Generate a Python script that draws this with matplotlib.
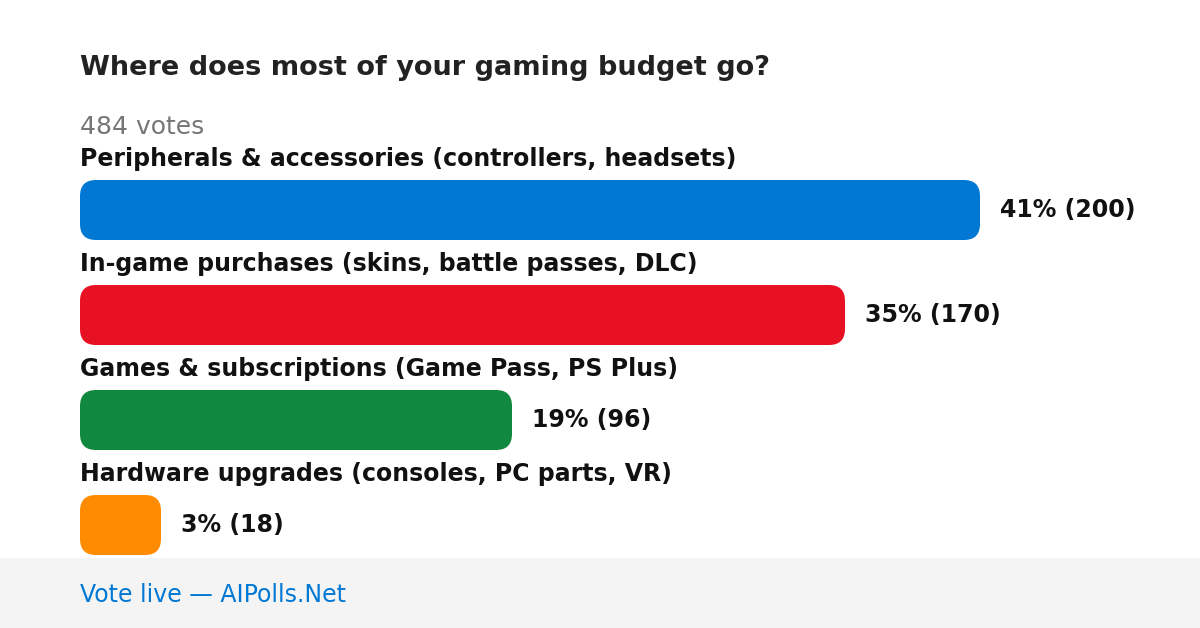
"""Poll result card: where does most of your gaming budget go."""
import matplotlib
matplotlib.use("Agg")
import matplotlib.pyplot as plt
from matplotlib.patches import FancyBboxPatch, Rectangle

TITLE = "Where does most of your gaming budget go?"
TOTAL_VOTES = 484
OPTIONS = [
    "Peripherals & accessories (controllers, headsets)",
    "In-game purchases (skins, battle passes, DLC)",
    "Games & subscriptions (Game Pass, PS Plus)",
    "Hardware upgrades (consoles, PC parts, VR)",
]
VOTES = [200, 170, 96, 18]
PERCENTS = [41, 35, 19, 3]
COLORS = ["#0078d4", "#e81123", "#10893e", "#ff8c00"]
FOOTER = "Vote live \u2014 AIPolls.Net"

W, H = 1200, 628
LEFT = 80
MAX_W = 900      # px for the largest option
BAR_H = 60
ROW0 = 180       # top of first bar
STEP = 105


def main():
    plt.rcParams["font.family"] = ["DejaVu Sans"]
    fig = plt.figure(figsize=(W / 100, H / 100), dpi=100)
    ax = fig.add_axes([0, 0, 1, 1])
    ax.set_xlim(0, W)
    ax.set_ylim(H, 0)   # pixel-like coords, y down
    ax.axis("off")

    ax.text(LEFT, 68, TITLE, fontsize=19.5, fontweight="bold",
            color="#222222", va="center", ha="left")
    ax.text(LEFT, 127, f"{TOTAL_VOTES} votes", fontsize=18,
            color="#767676", va="center", ha="left")

    vmax = max(VOTES)
    for i, (lab, v, p, c) in enumerate(zip(OPTIONS, VOTES, PERCENTS, COLORS)):
        top = ROW0 + i * STEP
        ax.text(LEFT, top - 21, lab, fontsize=17, fontweight="bold",
                color="#111111", va="center", ha="left")
        bw = v / vmax * MAX_W
        r = 16
        ax.add_patch(FancyBboxPatch(
            (LEFT + r, top + r), bw - 2 * r, BAR_H - 2 * r,
            boxstyle=f"round,pad={r}", fc=c, ec="none"))
        ax.text(LEFT + bw + 20, top + BAR_H / 2, f"{p}% ({v})",
                fontsize=17, fontweight="bold", color="#111111",
                va="center", ha="left")

    # footer band
    ax.add_patch(Rectangle((0, 558), W, H - 558, fc="#f4f4f4", ec="none"))
    ax.text(LEFT, 595, FOOTER, fontsize=17, color="#0078d4",
            va="center", ha="left")

    fig.savefig("out.png", dpi=100)
    plt.close(fig)


if __name__ == "__main__":
    main()
